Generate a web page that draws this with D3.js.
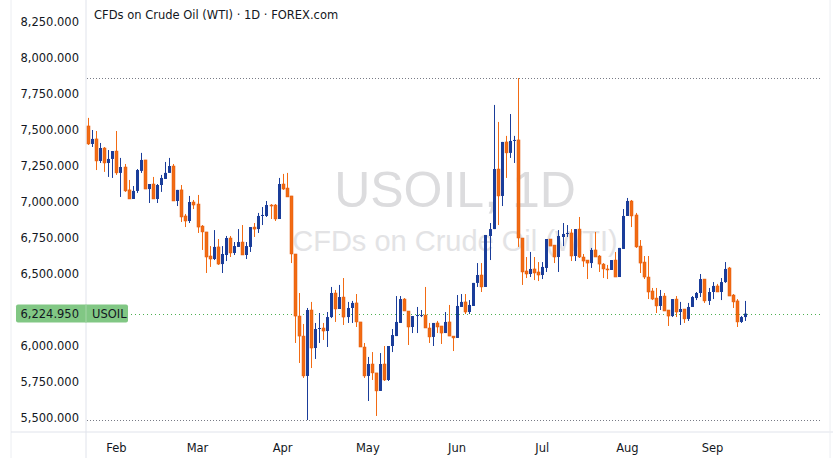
<!DOCTYPE html>
<html lang="en">
<head>
<meta charset="UTF-8">
<title>USOIL 1D</title>
<script src="https://cdnjs.cloudflare.com/ajax/libs/d3/7.8.5/d3.min.js"></script>
<style>
    body { margin: 0; background: #fff; font-family: 'DejaVu Sans', Verdana, sans-serif; }
    svg { display: block; }
</style>
</head>
<body>
<div id="chart"></div>
<script>
// daily candles, [open, high, low, close]
const candles = [
    [7528,7584,7396,7403],[7403,7500,7382,7438],[7438,7493,7222,7285],[7285,7410,7271,7375],
    [7375,7382,7209,7271],[7271,7361,7174,7299],[7299,7354,7167,7354],[7354,7493,7188,7202],
    [7202,7306,7035,7243],[7243,7264,7070,7077],[7084,7153,7021,7021],[7021,7111,7021,7077],
    [7077,7229,7063,7222],[7216,7341,7202,7292],[7292,7292,7090,7090],[7090,7125,6993,7125],
    [7125,7174,7021,7021],[7021,7125,6993,7118],[7118,7188,7070,7167],[7160,7278,7160,7202],
    [7202,7306,7202,7250],[7250,7264,7007,7007],[7007,7084,6972,7084],[7084,7118,6861,6896],
    [6903,6917,6826,6868],[6868,7042,6854,7000],[7000,7014,6951,6979],[6986,7049,6785,6826],
    [6833,6840,6667,6792],[6792,6792,6507,6618],[6625,6694,6549,6604],[6604,6805,6597,6688],
    [6688,6743,6563,6569],[6569,6694,6507,6639],[6632,6764,6590,6750],[6750,6764,6618,6646],
    [6646,6722,6632,6694],[6688,6812,6688,6722],[6722,6840,6632,6632],[6632,6722,6604,6694],
    [6688,6826,6653,6826],[6826,6854,6757,6812],[6812,6924,6785,6903],[6903,6965,6840,6910],
    [6903,7007,6896,6979],[6979,6986,6882,6972],[6979,6986,6868,6882],[6882,7167,6882,7125],
    [7125,7195,7084,7090],[7097,7202,7035,7035],[7042,7042,6576,6639],[6639,6639,6021,6208],
    [6208,6368,5882,6069],[6069,6153,5778,5792],[5792,6264,5486,6250],[6250,6306,5847,5986],
    [5986,6160,5910,6118],[6118,6229,6021,6125],[6125,6160,6042,6104],[6104,6236,5993,6201],
    [6201,6410,6194,6368],[6368,6389,6167,6257],[6257,6424,6257,6340],[6340,6472,6146,6201],
    [6201,6306,6160,6264],[6264,6313,6160,6299],[6299,6361,6132,6167],[6167,6167,5993,5993],
    [5993,6021,5778,5792],[5792,5924,5618,5875],[5875,5958,5764,5813],[5813,5813,5514,5688],
    [5688,5951,5688,5875],[5875,6000,5757,5764],[5764,6000,5757,6000],[6000,6118,5958,6076],
    [6069,6347,6069,6167],[6160,6347,6160,6326],[6326,6333,6243,6243],[6243,6243,6007,6132],
    [6132,6208,6090,6208],[6208,6271,6090,6215],[6208,6250,6201,6215],[6215,6410,6125,6125],
    [6125,6160,6021,6063],[6063,6160,6000,6160],[6160,6174,6090,6132],[6139,6139,6014,6090],
    [6090,6236,6090,6167],[6167,6285,6069,6069],[6069,6069,5965,6056],[6056,6354,6056,6278],
    [6271,6361,6271,6306],[6306,6361,6222,6236],[6236,6319,6222,6285],[6278,6438,6278,6438],
    [6438,6576,6410,6493],[6493,6576,6375,6410],[6410,6771,6410,6771],[6764,6854,6597,6812],
    [6812,7674,6812,7229],[7229,7556,6840,7042],[7042,7417,6972,7417],[7417,7459,7167,7341],
    [7341,7611,7306,7424],[7424,7459,7271,7431],[7431,7861,6688,6750],[6750,6750,6424,6514],
    [6521,6618,6472,6500],[6500,6653,6479,6535],[6535,6618,6458,6507],[6514,6583,6451,6493],
    [6493,6583,6465,6549],[6542,6743,6514,6743],[6743,6743,6694,6694],[6701,6701,6576,6618],
    [6618,6805,6514,6764],[6757,6854,6694,6778],[6778,6840,6757,6785],[6785,6812,6590,6625],
    [6625,6812,6590,6812],[6812,6896,6611,6618],[6618,6639,6549,6590],[6597,6597,6465,6576],
    [6576,6681,6542,6667],[6667,6792,6618,6618],[6625,6632,6514,6569],[6569,6576,6472,6535],
    [6535,6563,6465,6528],[6528,6597,6528,6597],[6597,6653,6479,6479],[6479,6681,6479,6681],
    [6674,6951,6674,6903],[6903,7028,6903,7007],[7007,7014,6826,6903],[6910,6924,6681,6688],
    [6694,6736,6507,6576],[6583,6625,6465,6479],[6479,6625,6326,6375],[6382,6403,6319,6326],
    [6333,6403,6229,6278],[6278,6389,6250,6347],[6347,6368,6243,6243],[6250,6250,6139,6208],
    [6208,6326,6201,6326],[6326,6347,6201,6236],[6236,6306,6146,6257],[6257,6257,6160,6188],
    [6188,6299,6174,6271],[6271,6347,6271,6340],[6333,6375,6319,6368],[6368,6500,6340,6465],
    [6465,6465,6299,6313],[6313,6403,6285,6375],[6375,6444,6326,6417],[6417,6431,6375,6375],
    [6375,6472,6319,6444],[6444,6583,6438,6535],[6542,6549,6347,6347],[6354,6361,6264,6306],
    [6313,6326,6132,6167],[6167,6208,6160,6201],[6201,6313,6174,6225]
];
const monthLabels = ["Feb","Mar","Apr","May","Jun","Jul","Aug","Sep"];
const monthIndex = [7, 27, 48, 69, 91, 112, 133, 154];
const priceTicks = [5500,5750,6000,6250,6500,6750,7000,7250,7500,7750,8000,8250];
const lastPrice = 6224.95;
const symbol = "USOIL";
const title = "CFDs on Crude Oil (WTI) · 1D · FOREX.com";

const width = 833, height = 458;
const plotLeft = 86, plotRight = 822, plotBottom = 432;
const upColor = "#1a3d9a", downColor = "#f26b13", downBorder = "#e2590b";

const svg = d3.select("#chart").append("svg").attr("width", width).attr("height", height);

const x = d3.scaleLinear().domain([0, 180]).range([88, 818]);
const y = d3.scaleLinear().domain([5500, 8250]).range([418, 22]);
const fmt = d3.format(",.3f");

// frame
svg.append("line").attr("x1", 11).attr("x2", 11).attr("y1", 0).attr("y2", height).attr("stroke", "#eceef2");
svg.append("line").attr("x1", plotLeft).attr("x2", plotLeft).attr("y1", 0).attr("y2", height).attr("stroke", "#e0e3eb");
svg.append("line").attr("x1", 11).attr("x2", width).attr("y1", plotBottom).attr("y2", plotBottom).attr("stroke", "#e0e3eb");
svg.append("line").attr("x1", plotRight + 8).attr("x2", plotRight + 8).attr("y1", 0).attr("y2", height).attr("stroke", "#eceef2");

// watermark
svg.append("text").attr("x", 455).attr("y", 207).attr("text-anchor", "middle")
    .attr("font-family", "'Liberation Sans', Arial, sans-serif").attr("font-size", 50)
    .attr("fill", "#dcdcde").text(symbol + ", 1D");
svg.append("text").attr("x", 455).attr("y", 251).attr("text-anchor", "middle")
    .attr("font-family", "'Liberation Sans', Arial, sans-serif").attr("font-size", 29)
    .attr("fill", "#e3e3e5").text("CFDs on Crude Oil (WTI)");

// y axis labels (the one hidden under the last-price tag is skipped)
svg.append("g").selectAll("text").data(priceTicks.filter(d => Math.abs(y(d) - y(lastPrice)) > 12)).join("text")
    .attr("x", 79).attr("y", d => y(d) + 4).attr("text-anchor", "end")
    .attr("font-size", 11.5).attr("fill", "#131722").text(d => fmt(d));

// x axis labels
svg.append("g").selectAll("text").data(monthIndex).join("text")
    .attr("x", d => x(d)).attr("y", 452).attr("text-anchor", "middle")
    .attr("font-size", 11.5).attr("fill", "#131722").text((d, i) => monthLabels[i]);

// high / low dotted lines
const hi = d3.max(candles, d => d[1]), lo = d3.min(candles, d => d[2]);
[hi, lo].forEach(v => {
    svg.append("line").attr("x1", plotLeft + 1).attr("x2", plotRight).attr("y1", Math.round(y(v)) + 0.5).attr("y2", Math.round(y(v)) + 0.5)
        .attr("stroke", "#787b86").attr("stroke-dasharray", "1,2");
});
// last price line
svg.append("line").attr("x1", plotLeft + 1).attr("x2", plotRight).attr("y1", Math.round(y(lastPrice)) + 0.5).attr("y2", Math.round(y(lastPrice)) + 0.5)
    .attr("stroke", "#4caf50").attr("stroke-dasharray", "1,3");

// candles
const g = svg.append("g");
g.selectAll("line.wick").data(candles).join("line").attr("class", "wick")
    .attr("x1", (d, i) => Math.round(x(i)) + 0.5).attr("x2", (d, i) => Math.round(x(i)) + 0.5)
    .attr("y1", d => y(d[1])).attr("y2", d => y(d[2]))
    .attr("stroke", d => d[3] >= d[0] ? upColor : downColor).attr("stroke-width", 1);
g.selectAll("rect.body").data(candles).join("rect").attr("class", "body")
    .attr("x", (d, i) => Math.round(x(i)) - 1)
    .attr("y", d => y(Math.max(d[0], d[3])))
    .attr("width", 3)
    .attr("height", d => Math.max(1, y(Math.min(d[0], d[3])) - y(Math.max(d[0], d[3]))))
    .attr("fill", d => d[3] >= d[0] ? upColor : downColor)
    .attr("stroke", d => d[3] >= d[0] ? "none" : downBorder).attr("stroke-width", 0.5);

// last price label
const ly = y(lastPrice);
svg.append("rect").attr("x", 16).attr("y", ly - 9).attr("width", 112).attr("height", 18).attr("rx", 2).attr("fill", "#81c784");
svg.append("line").attr("x1", plotLeft).attr("x2", plotLeft).attr("y1", ly - 9).attr("y2", ly + 9).attr("stroke", "#a5d6a7");
svg.append("text").attr("x", 79).attr("y", ly + 4).attr("text-anchor", "end").attr("font-size", 11.5).attr("fill", "#131722").text(fmt(lastPrice));
svg.append("text").attr("x", 92).attr("y", ly + 4).attr("font-size", 11.5).attr("fill", "#131722").text(symbol);

// title
svg.append("text").attr("x", 94).attr("y", 19).attr("font-size", 11.5).attr("fill", "#131722").text(title);
</script>
</body>
</html>
